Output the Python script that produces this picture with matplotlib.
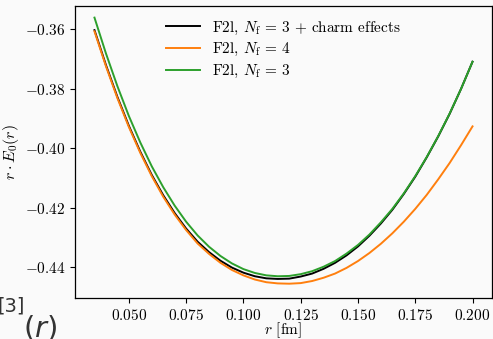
import matplotlib
matplotlib.use("Agg")
import matplotlib.pyplot as plt

# ---- data ----
r_fm = [0.035, 0.040, 0.045, 0.050, 0.055, 0.060, 0.065, 0.070, 0.075, 0.080,
        0.085, 0.090, 0.095, 0.100, 0.105, 0.110, 0.115, 0.120, 0.125, 0.130,
        0.135, 0.140, 0.145, 0.150, 0.155, 0.160, 0.165, 0.170, 0.175, 0.180,
        0.185, 0.190, 0.195, 0.200]

nf3_charm = [-0.3604, -0.3721, -0.3828, -0.3925, -0.4012, -0.4090, -0.4158, -0.4218,
             -0.4270, -0.4314, -0.4349, -0.4378, -0.4401, -0.4418, -0.4430, -0.4437,
             -0.4439, -0.4438, -0.4431, -0.4421, -0.4405, -0.4385, -0.4360, -0.4330,
             -0.4294, -0.4253, -0.4207, -0.4154, -0.4096, -0.4031, -0.3961, -0.3885,
             -0.3801, -0.3710]

nf4 = [-0.3608, -0.3725, -0.3832, -0.3929, -0.4016, -0.4094, -0.4163, -0.4223,
       -0.4275, -0.4320, -0.4355, -0.4385, -0.4409, -0.4427, -0.4441, -0.4450,
       -0.4454, -0.4455, -0.4453, -0.4446, -0.4435, -0.4421, -0.4402, -0.4379,
       -0.4352, -0.4321, -0.4286, -0.4247, -0.4204, -0.4157, -0.4105, -0.4050,
       -0.3990, -0.3927]

nf3 = [-0.3562, -0.3682, -0.3792, -0.3892, -0.3981, -0.4061, -0.4131, -0.4193,
       -0.4247, -0.4293, -0.4331, -0.4362, -0.4387, -0.4406, -0.4419, -0.4427,
       -0.4430, -0.4429, -0.4423, -0.4413, -0.4398, -0.4379, -0.4354, -0.4325,
       -0.4290, -0.4249, -0.4204, -0.4152, -0.4094, -0.4030, -0.3960, -0.3884,
       -0.3801, -0.3710]

labels = [r"F2l, $N_\mathrm{f}\,=\,3$ + charm effects",
          r"F2l, $N_\mathrm{f}\,=\,4$",
          r"F2l, $N_\mathrm{f}\,=\,3$"]
colors = ["black", "#ff7f0e", "#2ca02c"]

plt.rcParams["font.family"] = "serif"
plt.rcParams["font.serif"] = ["cmr10", "DejaVu Serif"]
plt.rcParams["mathtext.fontset"] = "cm"
plt.rcParams["axes.formatter.use_mathtext"] = True

bg = "#fafafa"
fig = plt.figure(figsize=(4.93, 3.39), dpi=100, facecolor=bg)
ax = fig.add_axes([75 / 493, 41 / 339, 417 / 493, 292 / 339], facecolor=bg)

for ys, lab, col in zip([nf3_charm, nf4, nf3], labels, colors):
    ax.plot(r_fm, ys, color=col, lw=1.4, label=lab)

ax.set_xlim(0.0265, 0.2085)
ax.set_ylim(-0.4503, -0.3523)
ax.set_xticks([0.050, 0.075, 0.100, 0.125, 0.150, 0.175, 0.200])
ax.set_yticks([-0.44, -0.42, -0.40, -0.38, -0.36])
ax.tick_params(labelsize=11, direction="out", length=3.5, width=0.8)
for s in ax.spines.values():
    s.set_linewidth(0.9)

ax.set_xlabel(r"$r$ [fm]", fontsize=11)
ax.xaxis.set_label_coords(0.5, -0.076)
ax.set_ylabel(r"$r \cdot E_0(r)$", fontsize=11.5)
ax.yaxis.set_label_coords(-0.13, 0.5)

ax.legend(loc="upper center", frameon=False, fontsize=11,
          handlelength=2.2, labelspacing=0.3, borderaxespad=0.5)

# cropped slide text at the bottom-left corner
fig.text(-3 / 493, 1 - 311 / 339, "[3]", fontsize=14, family="DejaVu Sans",
         color="#333333", va="baseline")
fig.text(23 / 493, 1 - 336 / 339, r"$(r)$", fontsize=21, math_fontfamily="dejavusans",
         color="#333333", va="baseline")

fig.savefig("out.png", dpi=100, facecolor=bg)
